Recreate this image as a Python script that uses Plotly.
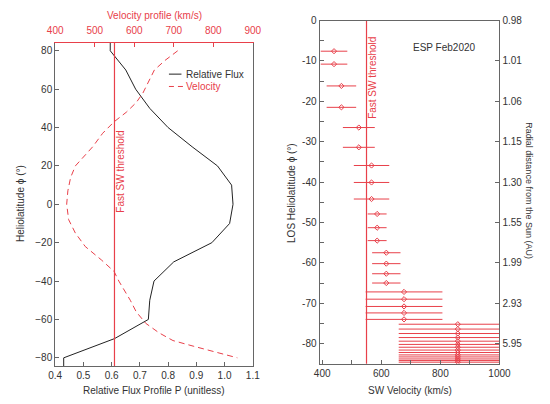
import plotly.graph_objects as go

# ---------------- data ----------------
# Left panel: latitude profiles
lat_profile = [85, 80, 70, 60, 50, 40, 30, 20, 10, 0, -10, -20, -30, -40, -50, -60, -70, -80, -85]
rel_flux = [0.595, 0.595, 0.65, 0.685, 0.735, 0.80, 0.885, 0.975, 1.025, 1.03,
            1.018, 0.955, 0.82, 0.75, 0.735, 0.73, 0.61, 0.43, 0.43]

lat_vel = [80, 75, 70, 65, 58, 53, 48, 43, 37, 30, 25, 20, 14, 7, 0,
           -8, -15, -22, -29, -35, -40, -44, -50, -56, -62, -67, -71, -74, -77, -80]
vel_profile = [710, 678, 651, 639, 622, 605, 580, 549, 520, 495, 472, 451, 439, 432, 429,
               434, 451, 476, 517, 549, 561, 573, 590, 605, 629, 663, 698, 751, 810, 861]

fast_sw_threshold = 550

# Right panel: ESP Feb2020 line-of-sight latitudes and solar wind speeds
los_lat = [-7.6, -10.8, -16.2, -21.5, -26.5, -31.4, -35.9, -40.1, -44.2,
           -47.9, -51.3, -54.5, -57.5, -60.2, -62.7, -65.0,
           -67.2, -69.0, -70.8, -72.4, -74.0,
           -75.2, -76.4, -77.5, -78.5, -79.4, -80.2, -80.9, -81.6, -82.2,
           -82.8, -83.3, -83.8, -84.2, -84.6]
sw_velocity = [440, 440, 465, 465, 524, 524, 567, 567, 567,
               586, 586, 586, 617, 617, 617, 617,
               677, 677, 677, 677, 677,
               859, 859, 859, 859, 859, 859, 859, 859, 859,
               859, 859, 859, 859, 859]
sw_err = [45, 45, 50, 50, 54, 54, 60, 60, 60,
          32, 32, 32, 48, 48, 48, 48,
          130, 130, 130, 130, 130,
          200, 200, 200, 200, 200, 200, 200, 200, 200,
          200, 200, 200, 200, 200]

# Right-hand axis: radial distance at each LOS latitude tick
au_tick_lat = [0, -10, -20, -30, -40, -50, -60, -70, -80]
au_tick_text = ["0.98", "1.01", "1.06", "1.15", "1.30", "1.55", "1.99", "2.93", "5.95"]

# ---------------- style ----------------
RED = "#e8404a"
INK = "#333333"
AXC = "#666666"
FONT = "Liberation Sans, Arial, sans-serif"
W, H = 550, 404


def px(x):
    return x / W


def py(y):
    return 1 - y / H


fig = go.Figure()

# Left panel
fig.add_trace(go.Scatter(x=rel_flux, y=lat_profile, mode="lines",
                         line=dict(color="#222222", width=1),
                         xaxis="x", yaxis="y", showlegend=False))
fig.add_trace(go.Scatter(x=vel_profile, y=lat_vel, mode="lines",
                         line=dict(color=RED, width=1, dash="6px,4px"),
                         xaxis="x3", yaxis="y", showlegend=False))
fig.add_trace(go.Scatter(x=[fast_sw_threshold, fast_sw_threshold], y=[-90, 90], mode="lines",
                         line=dict(color=RED, width=1.2),
                         xaxis="x3", yaxis="y", showlegend=False))

# Right panel
fig.add_trace(go.Scatter(x=[fast_sw_threshold, fast_sw_threshold], y=[-90, 0], mode="lines",
                         line=dict(color=RED, width=1.2),
                         xaxis="x2", yaxis="y2", showlegend=False))
fig.add_trace(go.Scatter(x=sw_velocity, y=los_lat, mode="markers",
                         marker=dict(symbol="diamond-open", size=4, color=RED,
                                     line=dict(color=RED, width=1)),
                         error_x=dict(type="data", array=sw_err, color=RED,
                                      thickness=1, width=0),
                         xaxis="x2", yaxis="y2", showlegend=False, cliponaxis=True))
# invisible trace that carries the right-hand radial-distance axis
fig.add_trace(go.Scatter(x=[None], y=[None], xaxis="x2", yaxis="y3",
                         showlegend=False, hoverinfo="skip"))

tick_font = dict(family=FONT, size=10, color=INK)
red_font = dict(family=FONT, size=10, color=RED)

L_DOM_X = [px(49), px(254)]
L_DOM_Y = [py(366), py(38)]
R_DOM_X = [px(323.3), px(510)]
R_DOM_Y = [py(363.3), py(15.7)]

fig.update_layout(
    width=W, height=H, autosize=False,
    margin=dict(l=0, r=0, t=0, b=0),
    paper_bgcolor="white", plot_bgcolor="white",
    font=dict(family=FONT, size=10, color=INK),
    xaxis=dict(domain=L_DOM_X, anchor="y", range=[0.4, 1.1],
               tickvals=[0.4, 0.5, 0.6, 0.7, 0.8, 0.9, 1.0, 1.1],
               ticktext=["0.4", "0.5", "0.6", "0.7", "0.8", "0.9", "1.0", "1.1"],
               ticks="inside", ticklen=4, tickcolor=AXC, showline=True, linecolor=AXC,
               showgrid=False, zeroline=False, tickfont=tick_font),
    xaxis3=dict(overlaying="x", side="top", anchor="y", range=[400, 900],
                tickvals=[400, 500, 600, 700, 800, 900],
                ticks="inside", ticklen=4, tickcolor=RED, showline=True, linecolor=RED,
                ticklabelstandoff=4,
                showgrid=False, zeroline=False, tickfont=red_font),
    yaxis=dict(domain=L_DOM_Y, anchor="x", range=[-84.5, 84.3],
               tickvals=[-80, -60, -40, -20, 0, 20, 40, 60, 80],
               ticks="inside", ticklen=4, tickcolor=AXC, showline=True, linecolor=AXC,
               mirror=True, showgrid=False, zeroline=False, tickfont=tick_font),
    xaxis2=dict(domain=R_DOM_X, anchor="y2", range=[391, 1000],
                tickvals=[400, 500, 600, 700, 800, 900, 1000],
                ticktext=["400", "", "600", "", "800", "", "1000"],
                ticks="inside", ticklen=4, tickcolor=AXC, showline=True, linecolor=AXC,
                mirror=True, showgrid=False, zeroline=False, tickfont=tick_font),
    yaxis2=dict(domain=R_DOM_Y, anchor="x2", range=[-85, 0],
                tickvals=[0, -5, -10, -15, -20, -25, -30, -35, -40, -45, -50,
                          -55, -60, -65, -70, -75, -80],
                ticktext=["0", "", "-10", "", "-20", "", "-30", "", "-40", "", "-50",
                          "", "-60", "", "-70", "", "-80"],
                ticks="inside", ticklen=4, tickcolor=AXC, showline=True, linecolor=AXC,
                showgrid=False, zeroline=False, tickfont=tick_font),
    yaxis3=dict(overlaying="y2", side="right", anchor="x2", range=[-85, 0],
                tickvals=au_tick_lat, ticktext=au_tick_text,
                ticks="inside", ticklen=4, tickcolor=AXC, showline=True, linecolor=AXC,
                showgrid=False, zeroline=False, tickfont=tick_font),
    showlegend=False,
)

ann = []
# axis titles
ann.append(dict(text="Velocity profile (km/s)", x=px(152), y=py(11), font=red_font))
ann.append(dict(text="Relative Flux Profile P (unitless)", x=px(152), y=py(390), font=tick_font))
ann.append(dict(text="Heliolatitude ϕ (°)", x=px(13), y=py(201), textangle=-90, font=tick_font))
ann.append(dict(text="SW Velocity (km/s)", x=px(417), y=py(390), font=tick_font))
ann.append(dict(text="LOS Heliolatitude ϕ (°)", x=px(294), y=py(190), textangle=-90, font=tick_font))
ann.append(dict(text="Radial distance from the Sun (AU)", x=px(541), y=py(188), textangle=90,
                font=dict(family=FONT, size=9, color=INK)))
# threshold labels
ann.append(dict(text="Fast SW threshold", x=px(117), y=py(169), textangle=-90, font=red_font))
ann.append(dict(text="Fast SW threshold", x=px(377.5), y=py(74), textangle=-90, font=red_font))
# panel label
ann.append(dict(text="ESP Feb2020", x=px(453), y=py(43), font=tick_font))
# legend text
ann.append(dict(text="Relative Flux", x=px(184), y=py(70), xanchor="left", font=tick_font,
                borderpad=0))
ann.append(dict(text="Velocity", x=px(184), y=py(82.5), xanchor="left", font=red_font,
                borderpad=0))

for a in ann:
    a.setdefault("xanchor", "center")
    a.update(xref="paper", yref="paper", yanchor="middle", showarrow=False)
fig.update_layout(annotations=ann)

# legend keys
fig.add_shape(type="line", xref="paper", yref="paper",
              x0=px(167), x1=px(180), y0=py(70), y1=py(70),
              line=dict(color="#222222", width=1))
fig.add_shape(type="line", xref="paper", yref="paper",
              x0=px(167), x1=px(182), y0=py(82.5), y1=py(82.5),
              line=dict(color=RED, width=1, dash="5px,4px"))

fig.write_html("out.html")
